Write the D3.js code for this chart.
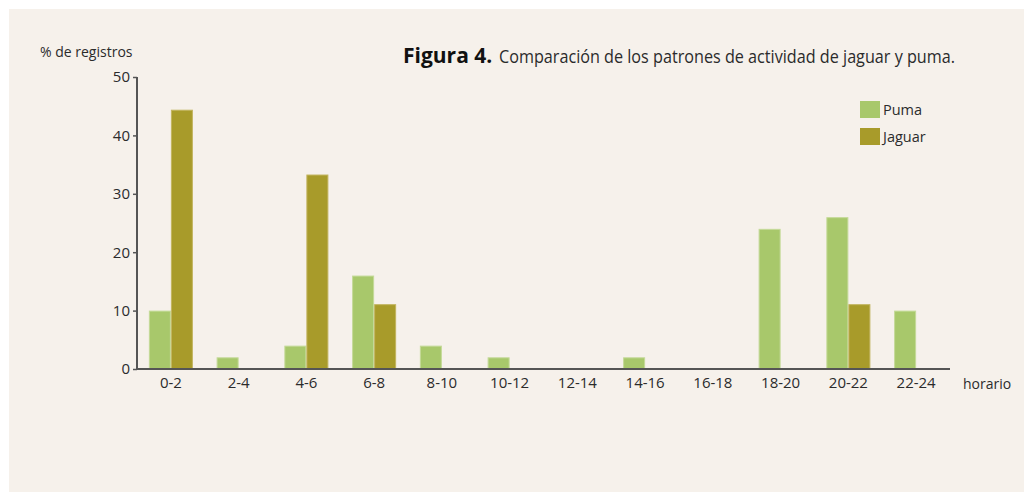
<!DOCTYPE html>
<html>
<head>
<meta charset="utf-8">
<script src="https://cdn.jsdelivr.net/npm/d3@7"></script>
<style>
  body { margin: 0; background: #fff; }
  text { font-family: "Open Sans", "Noto Sans", sans-serif; fill: #2b2b2b; }
</style>
</head>
<body>
<div id="chart"></div>
<script>
var categories = ["0-2", "2-4", "4-6", "6-8", "8-10", "10-12", "12-14", "14-16", "16-18", "18-20", "20-22", "22-24"];
var puma = [10, 2, 4, 16, 4, 2, 0, 2, 0, 24, 26, 10];
var jaguar = [44.4, 0, 33.3, 11.1, 0, 0, 0, 0, 0, 0, 11.1, 0];
var series = ["Puma", "Jaguar"];
var yTicks = [0, 10, 20, 30, 40, 50];

var cfg = {
  width: 1027,
  height: 492,
  left: 137,
  right: 950,
  top: 77,
  bottom: 369
};

var colors = { Puma: "#a8c86b", Jaguar: "#a89b2a" };
var strokes = { Puma: "#c4da98", Jaguar: "#c2b45e" };

var svg = d3.select("#chart").append("svg")
    .attr("width", cfg.width)
    .attr("height", cfg.height);

// beige panel
svg.append("rect")
    .attr("x", 9).attr("y", 9)
    .attr("width", 1015).attr("height", 483)
    .style("fill", "#f6f1eb");

var x = d3.scaleBand().domain(categories).range([cfg.left, cfg.right]).paddingInner(0.35).paddingOuter(0.175);
var xSub = d3.scaleBand().domain(series).range([0, x.bandwidth()]);
var y = d3.scaleLinear().domain([0, 50]).range([cfg.bottom, cfg.top]);

var rows = categories.map(function (c, i) {
  return { cat: c, values: [{ key: "Puma", v: puma[i] }, { key: "Jaguar", v: jaguar[i] }] };
});

var groups = svg.selectAll(".grp")
    .data(rows).enter()
    .append("g")
    .attr("class", "grp")
    .attr("transform", function (d) { return "translate(" + x(d.cat) + ",0)"; });

groups.selectAll("rect")
    .data(function (d) { return d.values.filter(function (e) { return e.v > 0; }); })
    .enter().append("rect")
    .attr("x", function (d) { return xSub(d.key) + 0.5; })
    .attr("y", function (d) { return y(d.v) + 0.5; })
    .attr("width", xSub.bandwidth() - 1)
    .attr("height", function (d) { return cfg.bottom - y(d.v) - 0.5; })
    .style("fill", function (d) { return colors[d.key]; })
    .style("stroke", function (d) { return strokes[d.key]; })
    .style("stroke-width", 1);

// y axis
var yAxis = svg.append("g")
    .attr("transform", "translate(" + cfg.left + ",0)")
    .call(d3.axisLeft(y).tickValues(yTicks).tickSize(4).tickPadding(3));
yAxis.select(".domain").attr("d", "M0," + cfg.top + "V" + cfg.bottom)
    .style("stroke", "#555").style("stroke-width", 2);
yAxis.selectAll(".tick line").style("stroke", "#555").style("stroke-width", 1.5);
yAxis.selectAll(".tick text").style("font-size", "15px").style("fill", "#2b2b2b")
    .attr("font-family", null);

// x axis
var xAxis = svg.append("g")
    .attr("transform", "translate(0," + cfg.bottom + ")")
    .call(d3.axisBottom(x).tickSize(0).tickPadding(8));
xAxis.select(".domain").attr("d", "M" + (cfg.left - 1) + ",0H" + cfg.right)
    .style("stroke", "#555").style("stroke-width", 2);
xAxis.selectAll(".tick text").style("font-size", "15px").style("fill", "#2b2b2b")
    .attr("font-family", null);

svg.append("text")
    .attr("x", 963).attr("y", 389)
    .style("font-size", "14px")
    .text("horario");

svg.append("text")
    .attr("x", 40).attr("y", 57)
    .style("font-size", "14px")
    .text("% de registros");

// title
svg.append("text")
    .attr("x", 403).attr("y", 63)
    .style("font-size", "21px").style("font-weight", "bold").style("fill", "#111")
    .text("Figura 4.");
svg.append("text")
    .attr("x", 499).attr("y", 63)
    .attr("textLength", 456).attr("lengthAdjust", "spacingAndGlyphs")
    .style("font-size", "17.5px")
    .text("Comparación de los patrones de actividad de jaguar y puma.");

// legend
var legend = svg.selectAll(".legend")
    .data(series).enter()
    .append("g")
    .attr("class", "legend")
    .attr("transform", function (d, i) { return "translate(860," + (101 + i * 27) + ")"; });

legend.append("rect")
    .attr("width", 20).attr("height", 17)
    .style("fill", function (d) { return colors[d]; });

legend.append("text")
    .attr("x", 23).attr("y", 14)
    .style("font-size", "14.5px")
    .text(function (d) { return d; });
</script>
</body>
</html>
